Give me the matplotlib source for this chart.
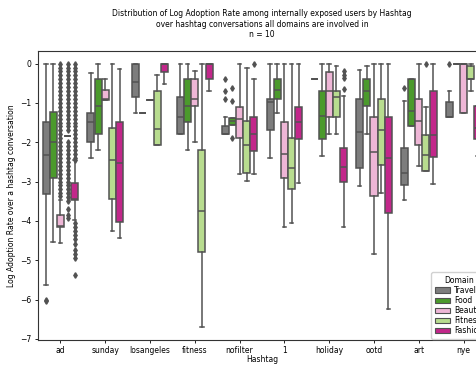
import matplotlib
matplotlib.use("Agg")
import matplotlib.pyplot as plt
from matplotlib.patches import Patch

hashtags = ["ad", "sunday", "losangeles", "fitness", "nofilter", "1", "holiday", "ootd", "art", "nye"]
domains = ["Travel", "Food", "Beauty", "Fitness", "Fashion"]
colors = ["#7d7d7d", "#4b9a2c", "#eeb6d6", "#b8dc8f", "#c2278a"]

# ---- per-domain box statistics (one value per hashtag) ----
travel_whishi = [0.0, -0.25, 0.0, 0.0, -1.37, 0.0, -0.40, -0.17, -0.94, -0.69]
travel_q3     = [-1.49, -1.25, 0.0, -0.86, -1.58, -0.90, -0.40, -0.91, -2.14, -0.98]
travel_med    = [-2.32, -1.48, -0.47, -1.37, -1.78, -0.98, -0.40, -1.75, -2.79, -1.37]
travel_q1     = [-3.31, -1.99, -0.85, -1.78, -1.78, -1.70, -0.40, -2.65, -3.08, -1.37]
travel_whislo = [-5.62, -2.39, -1.25, -1.78, -1.78, -2.40, -0.40, -3.12, -3.48, -1.37]
travel_fliers = [[-6.0, -6.05], [], [], [], [-0.40, -0.69, -0.89], [], [], [], [-0.63], [0.0]]

food_whishi = [0.0, 0.0, -1.25, 0.0, -1.39, 0.0, 0.0, -0.06, -0.40, 0.0]
food_q3     = [-1.22, -0.40, -1.25, -0.40, -1.39, -0.38, -0.69, -0.40, -0.40, 0.0]
food_med    = [-2.00, -1.08, -1.25, -1.08, -1.46, -0.68, -1.34, -0.69, -1.20, 0.0]
food_q1     = [-2.91, -1.78, -1.25, -1.49, -1.56, -0.91, -1.93, -1.08, -1.60, 0.0]
food_whislo = [-4.54, -2.19, -1.25, -2.19, -1.56, -1.25, -2.34, -1.78, -1.60, 0.0]
food_fliers = [[], [], [], [], [-0.61, -0.96, -1.89], [], [], [], [], []]

beauty_whishi = [-3.46, -0.40, -0.92, -0.18, 0.0, 0.0, 0.0, 0.0, 0.0, 0.0]
beauty_q3     = [-3.86, -0.67, -0.92, -0.40, -1.10, -1.49, -0.22, -1.37, -0.90, 0.0]
beauty_med    = [-4.12, -0.90, -0.92, -0.91, -1.41, -2.31, -0.69, -2.25, -1.46, 0.0]
beauty_q1     = [-4.16, -0.92, -0.92, -1.08, -1.88, -2.91, -1.37, -3.38, -2.06, -1.25]
beauty_whislo = [-4.56, -0.92, -0.92, -2.00, -2.82, -4.15, -1.78, -4.84, -2.61, -1.25]
beauty_fliers = [[0.0, -0.1, -0.2, -0.3, -0.4, -0.5, -0.6, -0.7, -0.8, -0.9, -1.0, -1.1,
                  -1.2, -1.3, -1.4, -1.5, -1.6, -1.7, -1.8, -1.9, -2.0, -2.1, -2.2, -2.3,
                  -2.4, -2.5, -2.6, -2.7, -2.8, -2.9, -3.0, -3.1, -3.2, -3.3, -3.36],
                 [], [], [], [], [], [], [], [], []]

fitness_whishi = [-1.85, 0.0, -0.28, 0.0, -0.11, 0.0, -0.06, 0.0, -1.11, 0.0]
fitness_q3     = [-1.85, -1.65, -0.69, -2.19, -1.46, -1.88, -0.69, -0.91, -1.82, -0.06]
fitness_med    = [-1.85, -2.44, -1.67, -3.74, -2.08, -2.65, -0.86, -1.70, -2.33, -0.40]
fitness_q1     = [-1.85, -3.44, -2.08, -4.79, -2.78, -3.19, -1.37, -2.59, -2.73, -0.40]
fitness_whislo = [-1.85, -4.26, -2.08, -6.71, -2.99, -4.06, -1.78, -3.28, -2.73, -0.69]
fitness_fliers = [[0.0, -0.1, -0.2, -0.3, -0.4, -0.5, -0.6, -0.7, -0.8, -0.9, -1.0, -1.1,
                   -1.2, -1.3, -1.4, -1.5, -1.6, -1.7, -2.0, -2.1, -2.2, -2.3, -2.4, -2.5,
                   -2.6, -2.7, -2.8, -2.9, -3.0, -3.1, -3.2, -3.3, -3.4, -3.5, -3.7, -3.85,
                   -3.92],
                  [], [], [], [], [], [], [], [0.0], []]

fashion_whishi = [-2.46, -0.15, 0.0, 0.0, -0.40, 0.0, -0.83, 0.0, 0.0, -1.08]
fashion_q3     = [-3.04, -1.48, 0.0, 0.0, -1.37, -1.10, -2.14, -1.35, -0.69, -1.08]
fashion_med    = [-3.44, -2.53, 0.0, 0.0, -1.80, -1.49, -2.63, -2.39, -1.82, -1.65]
fashion_q1     = [-3.46, -4.03, -0.22, -0.40, -2.22, -1.93, -3.01, -3.79, -2.38, -1.93]
fashion_whislo = [-3.99, -4.43, -0.51, -0.69, -2.82, -3.04, -4.15, -6.25, -3.07, -2.36]
fashion_fliers = [[0.0, -0.1, -0.2, -0.3, -0.4, -0.5, -0.6, -0.7, -0.8, -0.9, -1.0, -1.1,
                   -1.2, -1.3, -1.4, -1.5, -1.6, -1.7, -1.8, -1.9, -2.0, -2.1, -2.2, -2.3,
                   -2.4, -2.46, -4.05, -4.15, -4.25, -4.35, -4.45, -4.6, -4.75, -4.85,
                   -4.95, -5.37],
                  [], [], [], [0.0], [], [-0.2, -0.28, -0.37, -0.64], [], [], []]

stats_by_domain = {
    "Travel": (travel_whishi, travel_q3, travel_med, travel_q1, travel_whislo, travel_fliers),
    "Food": (food_whishi, food_q3, food_med, food_q1, food_whislo, food_fliers),
    "Beauty": (beauty_whishi, beauty_q3, beauty_med, beauty_q1, beauty_whislo, beauty_fliers),
    "Fitness": (fitness_whishi, fitness_q3, fitness_med, fitness_q1, fitness_whislo, fitness_fliers),
    "Fashion": (fashion_whishi, fashion_q3, fashion_med, fashion_q1, fashion_whislo, fashion_fliers),
}

W, H = 476, 365
fig = plt.figure(figsize=(W / 100, H / 100), dpi=100)
ax = fig.add_axes([38 / W, (H - 340) / H, 448 / W, 289 / H])

line_col = "#525252"
fs = 5.5
n = len(domains)
bw = 0.8 / n
for j, d in enumerate(domains):
    whishi, q3, med, q1, whislo, fl = stats_by_domain[d]
    bstats = []
    for i in range(len(hashtags)):
        bstats.append(dict(med=med[i], q1=q1[i], q3=q3[i], whislo=whislo[i],
                           whishi=whishi[i], fliers=fl[i]))
    pos = [i - 0.4 + bw * (j + 0.5) for i in range(len(hashtags))]
    ax.bxp(bstats, positions=pos, widths=bw * 0.98, patch_artist=True,
           manage_ticks=False,
           boxprops=dict(facecolor=colors[j], edgecolor=line_col, linewidth=1.1),
           medianprops=dict(color=line_col, linewidth=1.1),
           whiskerprops=dict(color=line_col, linewidth=1.1),
           capprops=dict(color=line_col, linewidth=1.1),
           flierprops=dict(marker="d", markerfacecolor=line_col, markeredgecolor=line_col,
                           markersize=2.8, linestyle="none"))

ax.set_xlim(-0.5, len(hashtags) - 0.5)
ax.set_ylim(-7.03, 0.32)
ax.set_xticks(range(len(hashtags)))
ax.set_xticklabels(hashtags, fontsize=fs)
ax.set_yticks([0, -1, -2, -3, -4, -5, -6, -7])
ax.tick_params(axis="y", labelsize=fs, length=2.5, width=0.6, pad=2)
ax.tick_params(axis="x", length=2.5, width=0.6, pad=1.5)
for s in ax.spines.values():
    s.set_linewidth(0.8)
    s.set_color("#333333")
ax.set_xlabel("Hashtag", fontsize=fs, labelpad=0.5)
ax.set_ylabel("Log Adoption Rate over a hashtag conversation", fontsize=fs, labelpad=3)
ax.set_title("Distribution of Log Adoption Rate among internally exposed users by Hashtag\n"
             "over hashtag conversations all domains are involved in\nn = 10",
             fontsize=fs, pad=10)

handles = [Patch(facecolor=c, edgecolor=line_col, linewidth=0.8) for c in colors]
ax.legend(handles, domains, title="Domain", fontsize=5.5, title_fontsize=5.5,
          loc="lower right", bbox_to_anchor=(1.006, -0.004), handlelength=2.0, handleheight=0.7,
          handletextpad=0.5, labelspacing=0.15, borderpad=0.45, borderaxespad=0.3,
          framealpha=0.9)

fig.savefig("out.png", dpi=100)
